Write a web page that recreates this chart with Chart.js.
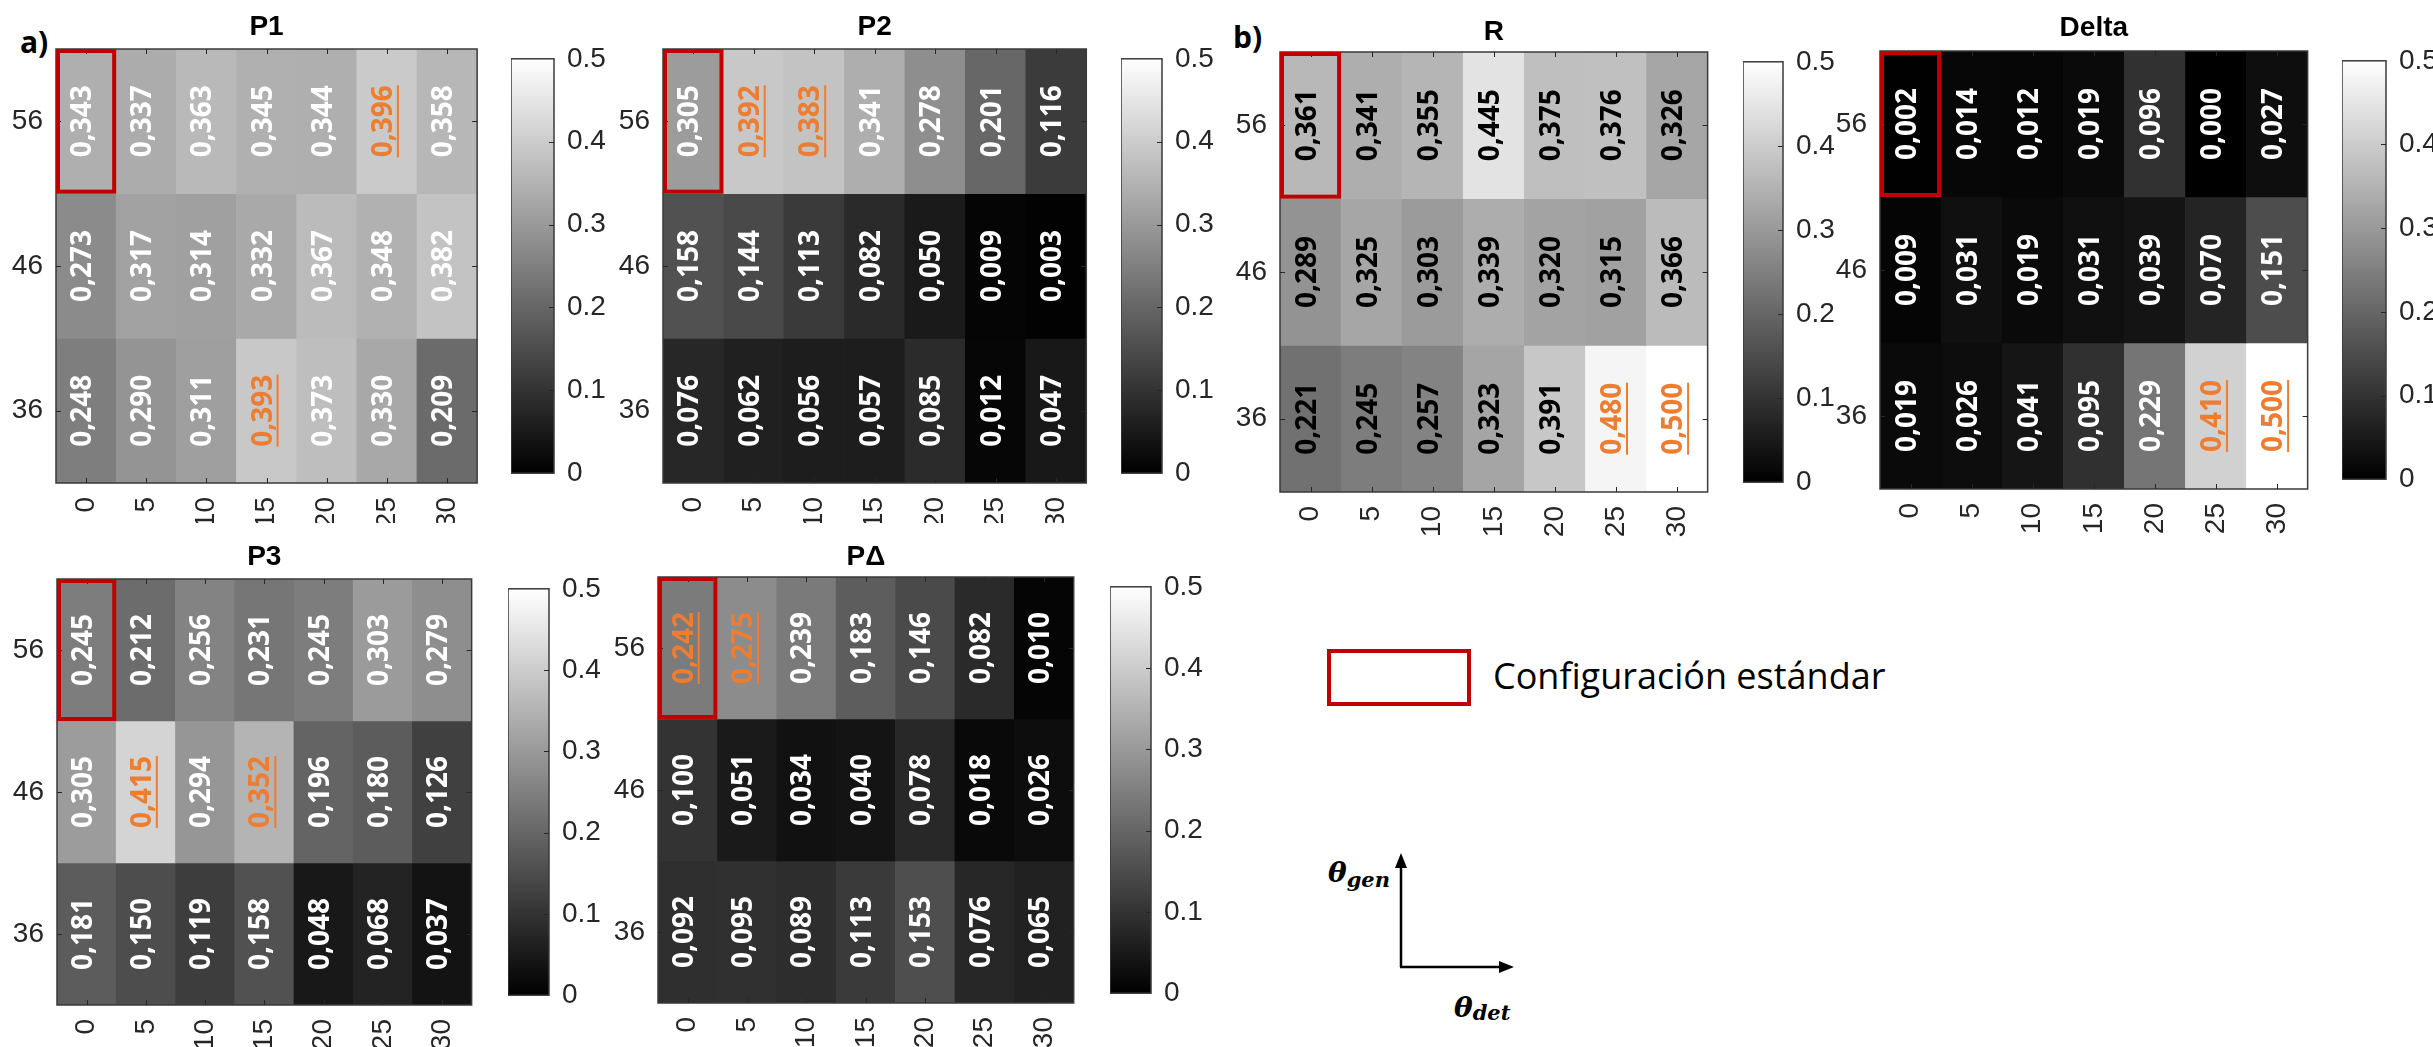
<!DOCTYPE html>
<html>
<head>
<meta charset="utf-8">
<script src="https://cdn.jsdelivr.net/npm/chart.js@4.4.0/dist/chart.umd.min.js"></script>
<style>
  html, body { margin: 0; padding: 0; background: #fff; }
  body { width: 2433px; height: 1047px; position: relative; overflow: hidden; }
  .box { position: absolute; }
  .tag { position: absolute; font: 700 30px 'Open Sans', sans-serif; line-height: 30px; color: #000; }
  #legendBox { position: absolute; left: 1327px; top: 649px; width: 136px; height: 49px; border: 4px solid #c00000; }
  #legendText { position: absolute; left: 1493px; top: 658px; font: 400 36px 'Open Sans', sans-serif; line-height: 36px; color: #000; white-space: nowrap; }
  .theta { position: absolute; font: italic 700 28px 'DejaVu Serif', serif; line-height: 28px; color: #000; white-space: nowrap; }
  .theta sub { font-size: 21px; vertical-align: -5px; }
</style>
</head>
<body>
<div class="tag" style="left:20px;top:27px">a)</div>
<div class="tag" style="left:1233px;top:22px">b)</div>

<div id="legendBox"></div>
<div id="legendText">Configuración estándar</div>

<svg class="box" style="left:0;top:0" width="2433" height="1047">
  <line x1="1401" y1="967" x2="1401" y2="866" stroke="#000" stroke-width="2.5"/>
  <polygon points="1401,853 1395,868 1407,868" fill="#000"/>
  <line x1="1400" y1="967" x2="1501" y2="967" stroke="#000" stroke-width="2.5"/>
  <polygon points="1514,967 1499,961 1499,973" fill="#000"/>
</svg>
<div class="theta" style="left:1328px;top:859px">θ<sub>gen</sub></div>
<div class="theta" style="left:1454px;top:994px">θ<sub style="vertical-align:-3px">det</sub></div>

<script>
// detector angle (x) and generator angle (y) categories
const detAngles = [0, 5, 10, 15, 20, 25, 30];
const genAngles = [56, 46, 36];
const colorRange = [0, 0.5];
const colorTicks = [0, 0.1, 0.2, 0.3, 0.4, 0.5];

// rows follow genAngles (56, 46, 36)
const p1Values = [
  [0.343, 0.337, 0.363, 0.345, 0.344, 0.396, 0.358],
  [0.273, 0.317, 0.314, 0.332, 0.367, 0.348, 0.382],
  [0.248, 0.290, 0.311, 0.393, 0.373, 0.330, 0.209],
];
const p2Values = [
  [0.305, 0.392, 0.383, 0.341, 0.278, 0.201, 0.116],
  [0.158, 0.144, 0.113, 0.082, 0.050, 0.009, 0.003],
  [0.076, 0.062, 0.056, 0.057, 0.085, 0.012, 0.047],
];
const rValues = [
  [0.361, 0.341, 0.355, 0.445, 0.375, 0.376, 0.326],
  [0.289, 0.325, 0.303, 0.339, 0.320, 0.315, 0.366],
  [0.221, 0.245, 0.257, 0.323, 0.391, 0.480, 0.500],
];
const deltaValues = [
  [0.002, 0.014, 0.012, 0.019, 0.096, 0.000, 0.027],
  [0.009, 0.031, 0.019, 0.031, 0.039, 0.070, 0.151],
  [0.019, 0.026, 0.041, 0.095, 0.229, 0.410, 0.500],
];
const p3Values = [
  [0.245, 0.212, 0.256, 0.231, 0.245, 0.303, 0.279],
  [0.305, 0.415, 0.294, 0.352, 0.196, 0.180, 0.126],
  [0.181, 0.150, 0.119, 0.158, 0.048, 0.068, 0.037],
];
const pDeltaValues = [
  [0.242, 0.275, 0.239, 0.183, 0.146, 0.082, 0.010],
  [0.100, 0.051, 0.034, 0.040, 0.078, 0.018, 0.026],
  [0.092, 0.095, 0.089, 0.113, 0.153, 0.076, 0.065],
];

// highlighted cells [gen, det]
const p1Marked = [[56, 25], [36, 15]];
const p2Marked = [[56, 5], [56, 10]];
const rMarked = [[36, 25], [36, 30]];
const deltaMarked = [[36, 25], [36, 30]];
const p3Marked = [[46, 5], [46, 15]];
const pDeltaMarked = [[56, 0], [56, 5]];

// standard configuration [gen, det]
const standardCell = [56, 0];

const ORANGE = '#ed7d31';
const AXIS_COLOR = '#262626';
const TICK_FONT = { family: 'Liberation Sans', size: 28 };

// where each panel sits on the page
const panels = [
  { title: 'P1', values: p1Values, marked: p1Marked, text: '#fff', L: 56, T: 49, R: 490, B: 483, cbL: 511, cbR: 554, top: 0, clip: 523, titleY: 27 },
  { title: 'P2', values: p2Values, marked: p2Marked, text: '#fff', L: 663, T: 49, R: 1099, B: 483, cbL: 1121, cbR: 1162, top: 0, clip: 523, titleY: 27 },
  { title: 'R', values: rValues, marked: rMarked, text: '#000', L: 1280, T: 52, R: 1720, B: 492, cbL: 1743, cbR: 1783, top: 0, clip: 545, titleY: 32 },
  { title: 'Delta', values: deltaValues, marked: deltaMarked, text: '#fff', L: 1880, T: 51, R: 2320, B: 489, cbL: 2342, cbR: 2386, top: 0, clip: 545, titleY: 28 },
  { title: 'P3', values: p3Values, marked: p3Marked, text: '#fff', L: 57, T: 579, R: 485, B: 1005, cbL: 508, cbR: 549, top: 530, clip: 1047, titleY: 557 },
  { title: 'P\u0394', values: pDeltaValues, marked: pDeltaMarked, text: '#fff', L: 658, T: 577, R: 1087, B: 1003, cbL: 1110, cbR: 1151, top: 530, clip: 1047, titleY: 557 },
];

function gray(v) {
  const t = Math.min(1, Math.max(0, (v - colorRange[0]) / (colorRange[1] - colorRange[0])));
  const g = Math.round(t * 255);
  return `rgb(${g},${g},${g})`;
}

function makeBox(left, top, width, height) {
  const div = document.createElement('div');
  div.className = 'box';
  Object.assign(div.style, { left: left + 'px', top: top + 'px', width: width + 'px', height: height + 'px' });
  const canvas = document.createElement('canvas');
  div.appendChild(canvas);
  document.body.appendChild(div);
  return canvas;
}

function drawFrame(ctx, area) {
  ctx.strokeStyle = '#3a3a3a';
  ctx.lineWidth = 1.5;
  ctx.strokeRect(area.left, area.top, area.right - area.left, area.bottom - area.top);
}

const heatmapDecor = {
  id: 'heatmapDecor',
  afterDatasetsDraw(chart, args, opts) {
    const { ctx, chartArea: area, scales } = chart;
    ctx.save();

    // cell values
    chart.data.datasets.forEach((ds, di) => {
      const meta = chart.getDatasetMeta(di);
      meta.data.forEach((bar, i) => {
        const { x, y, base } = bar.getProps(['x', 'y', 'base'], true);
        const cy = (y + base) / 2;
        const txt = ds.values[i].toFixed(3).replace('.', ',');
        const marked = opts.marked.some(m => m[0] === ds.gen && m[1] === detAngles[i]);
        ctx.save();
        ctx.translate(x - 3, cy);
        ctx.rotate(-Math.PI / 2);
        ctx.font = '700 28px "Open Sans"';
        ctx.textAlign = 'center';
        ctx.textBaseline = 'middle';
        ctx.fillStyle = marked ? ORANGE : opts.textColor;
        ctx.fillText(txt, 0, 0);
        if (marked) {
          const w = ctx.measureText(txt).width;
          ctx.fillRect(-w / 2, 13, w, 2);
        }
        ctx.restore();
      });
    });

    // frame and inward ticks
    drawFrame(ctx, area);
    ctx.strokeStyle = AXIS_COLOR;
    ctx.lineWidth = 1;
    ctx.beginPath();
    detAngles.forEach((d, i) => {
      const px = Math.round(scales.x.getPixelForValue(i)) + 0.5;
      ctx.moveTo(px, area.top); ctx.lineTo(px, area.top + 5);
      ctx.moveTo(px, area.bottom); ctx.lineTo(px, area.bottom - 5);
    });
    genAngles.forEach(g => {
      const py = Math.round(scales.y.getPixelForValue(g)) + 0.5;
      ctx.moveTo(area.left, py); ctx.lineTo(area.left + 5, py);
      ctx.moveTo(area.right, py); ctx.lineTo(area.right - 5, py);
    });
    ctx.stroke();

    // standard configuration box
    const gi = genAngles.indexOf(standardCell[0]);
    const di = detAngles.indexOf(standardCell[1]);
    const cell = chart.getDatasetMeta(gi).data[di].getProps(['x', 'y', 'base', 'width'], true);
    const top = Math.min(cell.y, cell.base);
    const h = Math.abs(cell.base - cell.y);
    ctx.strokeStyle = '#c00000';
    ctx.lineWidth = 4;
    ctx.strokeRect(cell.x - cell.width / 2 + 2, top + 2, cell.width - 4, h - 4);
    ctx.restore();
  }
};

const colorbarDecor = {
  id: 'colorbarDecor',
  afterDatasetsDraw(chart) {
    const { ctx, chartArea: area, scales } = chart;
    ctx.save();
    drawFrame(ctx, area);
    ctx.strokeStyle = AXIS_COLOR;
    ctx.lineWidth = 1;
    ctx.beginPath();
    colorTicks.slice(1, -1).forEach(v => {
      const py = Math.round(scales.y.getPixelForValue(v)) + 0.5;
      ctx.moveTo(area.right, py); ctx.lineTo(area.right - 5, py);
    });
    ctx.stroke();
    ctx.restore();
  }
};

function buildHeatmap(p) {
  const padL = 60, padR = 6;
  const padT = p.T - p.top;
  const padB = p.clip - p.B;
  const titleTop = p.titleY - p.top - 14;
  const canvas = makeBox(p.L - padL, p.top, (p.R - p.L) + padL + padR, p.clip - p.top);

  const datasets = genAngles.map((g, gi) => ({
    gen: g,
    values: p.values[gi],
    data: p.values[gi].map(() => [g - 5, g + 5]),
    backgroundColor: p.values[gi].map(gray),
    borderWidth: 0,
    grouped: false,
    barPercentage: 1,
    categoryPercentage: 1,
  }));

  new Chart(canvas, {
    type: 'bar',
    data: { labels: detAngles.map(String), datasets },
    plugins: [heatmapDecor],
    options: {
      responsive: true,
      maintainAspectRatio: false,
      animation: false,
      devicePixelRatio: 1,
      layout: { padding: { left: 0, right: padR, top: 0, bottom: 0 } },
      plugins: {
        legend: { display: false },
        tooltip: { enabled: false },
        title: {
          display: true,
          text: p.title,
          fullSize: false,
          color: '#000',
          font: { family: 'Liberation Sans', size: 28, weight: 'bold', lineHeight: 1 },
          padding: { top: titleTop, bottom: padT - 28 - titleTop },
        },
        heatmapDecor: { marked: p.marked, textColor: p.text },
      },
      scales: {
        x: {
          type: 'category',
          grid: { display: false, drawTicks: false },
          border: { display: false },
          ticks: { minRotation: 90, maxRotation: 90, autoSkip: false, padding: 14, color: AXIS_COLOR, font: TICK_FONT },
          afterFit: s => { s.height = padB; },
        },
        y: {
          type: 'linear',
          min: Math.min(...genAngles) - 5,
          max: Math.max(...genAngles) + 5,
          grid: { display: false, drawTicks: false },
          border: { display: false },
          ticks: { padding: 13, color: AXIS_COLOR, font: TICK_FONT, callback: v => String(v) },
          afterBuildTicks: s => { s.ticks = genAngles.map(v => ({ value: v })); },
          afterFit: s => { s.width = padL; },
        },
      },
    },
  });
}

function buildColorbar(p) {
  const labelW = 60, pad = 20;
  const canvas = makeBox(p.cbL, p.T - pad, (p.cbR - p.cbL) + labelW, (p.B - p.T) + pad * 2);
  new Chart(canvas, {
    type: 'bar',
    data: {
      labels: [''],
      datasets: [{
        data: [colorRange],
        borderWidth: 0,
        barPercentage: 1,
        categoryPercentage: 1,
        backgroundColor: (ctx) => {
          const chart = ctx.chart;
          const y = chart.scales.y;
          if (!y || !chart.chartArea) return '#808080';
          const y0 = y.getPixelForValue(colorRange[0]);
          const y1 = y.getPixelForValue(colorRange[1]);
          if (!Number.isFinite(y0) || !Number.isFinite(y1)) return '#808080';
          const grad = chart.ctx.createLinearGradient(0, y0, 0, y1);
          grad.addColorStop(0, '#000');
          grad.addColorStop(1, '#fff');
          return grad;
        },
      }],
    },
    plugins: [colorbarDecor],
    options: {
      responsive: true,
      maintainAspectRatio: false,
      animation: false,
      devicePixelRatio: 1,
      layout: { padding: { left: 0, right: 0, top: pad, bottom: pad } },
      plugins: { legend: { display: false }, tooltip: { enabled: false } },
      scales: {
        x: { display: false },
        y: {
          position: 'right',
          min: colorRange[0],
          max: colorRange[1],
          grid: { display: false, drawTicks: false },
          border: { display: false },
          ticks: {
            padding: 13, color: AXIS_COLOR, font: TICK_FONT,
            callback: v => (v === 0 ? '0' : v.toFixed(1)),
          },
          afterBuildTicks: s => { s.ticks = colorTicks.map(v => ({ value: v })); },
          afterFit: s => { s.width = labelW; },
        },
      },
    },
  });
}

panels.forEach(p => {
  buildHeatmap(p);
  buildColorbar(p);
});
</script>
</body>
</html>
